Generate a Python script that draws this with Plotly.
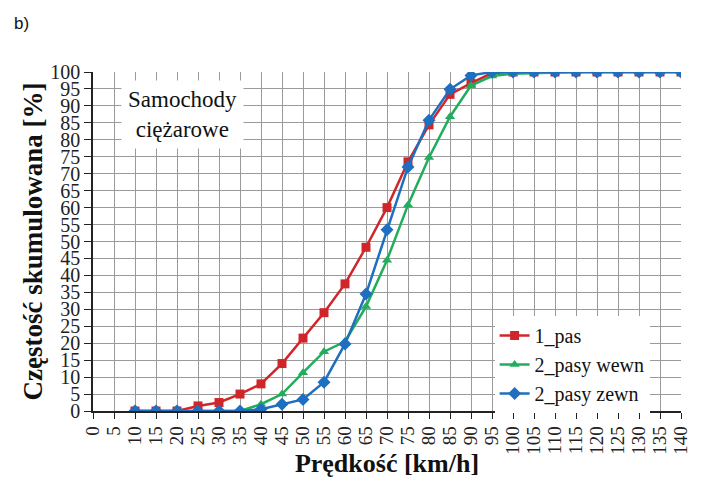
import plotly.graph_objects as go

speeds = [10, 15, 20, 25, 30, 35, 40, 45, 50, 55, 60, 65, 70, 75, 80, 85, 90, 95,
          100, 105, 110, 115, 120, 125, 130, 135, 140]
pas1 = [0, 0, 0, 1.5, 2.5, 5, 8, 14, 21.5, 29, 37.5, 48.3, 60, 73.5, 84.4, 93.4, 96.7, 99.7,
        100, 100, 100, 100, 100, 100, 100, 100, 100]
pasy_wewn = [0, 0, 0, 0, 0, 0, 2, 5, 11.3, 17.5, 20.5, 30.8, 44.5, 60.8, 74.8, 86.8, 96, 98.8,
             99.5, 99.7, 100, 100, 100, 100, 100, 100, 100]
pasy_zewn = [0, 0, 0, 0, 0, 0, 0.5, 2, 3.4, 8.5, 19.8, 34.5, 53.5, 72, 85.8, 94.9, 99, 100,
             100, 100, 100, 100, 100, 100, 100, 100, 100]

x_ticks = list(range(0, 145, 5))
y_ticks = list(range(0, 105, 5))

serif = "Liberation Serif"

fig = go.Figure()
fig.add_trace(go.Scatter(x=speeds, y=pas1, name="1_pas", mode="lines+markers",
                         line=dict(color="#d0262a", width=2.5),
                         marker=dict(symbol="square", size=9, color="#d0262a")))
fig.add_trace(go.Scatter(x=speeds, y=pasy_wewn, name="2_pasy wewn", mode="lines+markers",
                         line=dict(color="#21ad5c", width=2.5),
                         marker=dict(symbol="triangle-up", size=9, color="#21ad5c")))
fig.add_trace(go.Scatter(x=speeds, y=pasy_zewn, name="2_pasy zewn", mode="lines+markers",
                         line=dict(color="#1e6fc0", width=2.5),
                         marker=dict(symbol="diamond", size=10, color="#1e6fc0")))

fig.update_layout(
    width=701, height=480,
    margin=dict(l=93, r=20, t=72, b=69, autoexpand=False),
    paper_bgcolor="white", plot_bgcolor="white",
    showlegend=True,
    legend=dict(x=0.683, y=0.28, xanchor="left", yanchor="top",
                bgcolor="white", borderwidth=0,
                font=dict(family=serif, size=20, color="#111"),
                tracegroupgap=0, itemwidth=30),
    font=dict(family=serif, color="#111"),
)

fig.update_xaxes(range=[0, 140], tickvals=x_ticks, ticktext=[str(v) for v in x_ticks],
                 tickangle=-90, tickfont=dict(family=serif, size=19, color="#222"),
                 showgrid=True, gridcolor="#9a9a9a", gridwidth=1, automargin=False,
                 showline=True, linecolor="#222", linewidth=1.5,
                 ticks="outside", ticklen=6, tickcolor="#222", zeroline=False,
                 title=dict(text="<b>Prędkość [km/h]</b>", font=dict(family=serif, size=26, color="#111"),
                            standoff=0))
fig.update_yaxes(range=[0, 100], tickvals=y_ticks, ticktext=[str(v) for v in y_ticks],
                 tickfont=dict(family=serif, size=20, color="#222"),
                 showgrid=True, gridcolor="#9a9a9a", gridwidth=1, automargin=False,
                 showline=True, linecolor="#222", linewidth=1.5,
                 ticks="outside", ticklen=7, tickcolor="#222", zeroline=False,
                 title=dict(text="<b>Częstość skumulowana [%]</b>", font=dict(family=serif, size=27, color="#111"),
                            standoff=0))

fig.add_annotation(text="Samochody<br>ciężarowe", xref="paper", yref="paper",
                   x=0.153, y=0.876, xanchor="center", yanchor="middle", showarrow=False,
                   font=dict(family=serif, size=23, color="#111"),
                   bgcolor="white", borderpad=6, align="center")
fig.add_annotation(text="b)", xref="paper", yref="paper", x=-0.138, y=1.142,
                   xanchor="left", yanchor="middle", showarrow=False,
                   font=dict(family="Liberation Sans", size=17, color="#111"))

fig.write_html("out.html", config={"displayModeBar": False},
               post_script="document.body.style.margin='0';")
